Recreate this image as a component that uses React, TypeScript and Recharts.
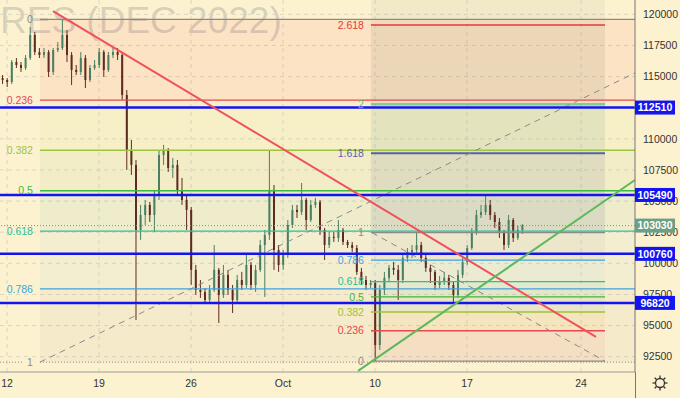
import React from 'react';
import { ComposedChart, Bar, XAxis, YAxis, CartesianGrid, ReferenceLine, ReferenceArea } from 'recharts';

const X_MIN = -0.38;
const X_MAX = 34.13;
const Y_MIN = 91270;
const Y_MAX = 121150;

// x is measured in trading days from Sep 12
const xTicks = [0, 5, 10, 15, 20, 25, 31.2];
const xTickLabels = ['12', '19', '26', 'Oct', '10', '17', '24'];
const yGrid = [92500, 95000, 97500, 100000, 102500, 105000, 107500, 110000, 112500, 115000, 117500, 120000];
// 112500 sits fully under the 112510 tag, so it has no label
const yTicks = [92500, 95000, 97500, 100000, 102500, 105000, 107500, 110000, 115000, 117500, 120000];

// candles [open, high, low, close], 4 per trading day
const weekSep12 = [
  [114880, 115130, 114400, 114720], [114720, 114880, 114160, 114560], [114560, 116330, 114400, 116170],
  [116170, 116490, 115690, 115930], [115930, 116170, 115370, 115690], [115690, 116730, 115530, 116490],
  [116490, 118980, 116330, 118340], [118340, 118580, 116730, 116970], [116970, 117290, 116490, 116730],
  [116730, 117290, 116490, 116970], [116970, 117130, 114970, 115370], [115370, 117290, 115130, 117130],
  [117130, 117780, 116970, 117290], [117290, 119600, 117130, 118340], [118340, 118740, 116170, 116730],
  [116730, 116970, 114320, 115530], [115530, 115930, 115130, 115370], [115370, 116970, 115130, 116490],
  [116490, 116730, 114080, 114720], [114720, 115930, 114560, 115690], [115690, 116330, 115530, 115930],
];
const weekSep19 = [
  [115930, 117290, 115690, 116970], [116970, 117130, 114970, 115530], [115530, 116970, 115370, 116730],
  [116730, 117290, 116490, 116970], [116970, 117290, 116330, 116730], [116730, 116970, 113120, 113520],
  [113520, 113920, 107500, 109100], [109100, 109910, 107100, 107900], [107900, 108300, 95450, 102680],
  [102680, 104690, 101880, 103880], [103880, 105090, 103080, 104690], [104690, 104930, 103320, 103880],
  [103880, 105890, 102520, 105490], [105490, 109100, 105090, 108700], [108700, 109510, 107900, 109100],
  [109100, 109260, 107340, 107660], [107660, 108460, 106860, 107900], [107900, 108300, 105490, 105890],
  [105890, 106860, 104690, 105090], [105090, 105490, 102680, 104290],
];
const weekSep26 = [
  [104290, 104530, 98260, 99470], [99470, 99870, 97460, 97860], [97860, 98660, 97220, 97700],
  [97700, 98020, 96820, 97060], [97060, 98260, 96900, 97860], [97860, 101470, 97700, 99470],
  [99470, 99630, 95210, 97460], [97460, 99870, 97220, 99070], [99070, 99470, 97460, 97860],
  [97860, 98260, 96010, 97060], [97060, 99070, 96900, 98660], [98660, 99310, 97860, 98260],
  [98260, 100670, 98020, 99870], [99870, 100110, 97860, 98260], [98260, 99870, 97700, 99470],
  [99470, 101880, 99310, 101470], [101470, 102680, 97300, 102280], [102280, 109100, 101880, 105890],
  [105890, 106290, 99470, 101070], [101070, 101470, 99310, 99870],
];
const weekOct3 = [
  [99870, 101070, 99470, 100670], [100670, 103480, 100430, 103080], [103080, 104690, 102840, 104290],
  [104290, 104690, 103640, 104120], [104120, 106450, 103880, 105090], [105090, 105250, 102680, 103480],
  [103480, 105090, 103320, 104690], [104690, 105250, 104450, 104930], [104930, 105090, 102280, 102680],
  [102680, 102840, 100270, 101470], [101470, 102520, 101230, 102120], [102120, 102520, 101720, 102040],
  [102040, 103480, 101720, 102680], [102680, 102840, 101470, 101720], [101720, 101880, 101230, 101470],
  [101470, 101720, 100910, 101230], [101230, 101470, 99070, 99310], [99310, 99630, 98260, 98660],
  [98660, 98990, 97860, 98260], [98260, 98660, 98020, 98420],
];
const weekOct10 = [
  [98420, 98660, 92150, 93440], [93440, 98260, 93040, 97860], [97860, 99310, 97460, 98830],
  [98830, 99870, 98500, 99630], [99630, 100110, 99070, 99470], [99470, 99870, 97060, 98660],
  [98660, 100670, 98420, 100430], [100430, 101230, 100110, 100910], [100910, 101470, 100430, 101070],
  [101070, 102520, 100670, 101470], [101470, 101720, 100110, 100430], [100430, 100670, 99310, 99630],
  [99630, 99870, 98420, 99310], [99310, 99470, 97860, 98260], [98260, 98990, 98020, 98500],
  [98500, 99310, 98260, 98830], [98830, 99070, 97860, 98260], [98260, 98500, 96900, 97460],
  [97460, 99470, 97220, 99070], [99070, 100430, 98830, 100110],
];
const weekOct17 = [
  [100110, 101470, 99870, 101230], [101230, 102840, 101070, 102520], [102520, 104290, 102280, 103880],
  [103880, 104690, 103640, 104120], [104120, 105490, 103880, 104690], [104690, 105090, 103480, 103880],
  [103880, 104120, 102840, 103320], [103320, 103640, 102040, 102520], [102520, 102680, 101070, 101470],
  [101470, 103880, 101230, 103480], [103480, 103640, 101720, 102040], [102040, 103000, 101880, 102680],
  [102680, 103160, 102360, 103030],
];

const candles = [weekSep12, weekSep19, weekSep26, weekOct3, weekOct10, weekOct17]
  .flat()
  .map(([o, h, l, c], i) => ({ x: -0.25 + i * 0.25, o, h, l, c, range: [l, h] }));

// fib retracement (left) and trend-based extension (right)
const fibLeftStart = 1.79;
const fibLeftHigh = 119600;
const fibLeftLow = 92060;
const fibLeftLevels = [0, 0.236, 0.382, 0.5, 0.618, 0.786, 1];
const fibLeftColors = ['#8a8a8a', '#e8474f', '#9bc53d', '#3cb83c', '#26c29a', '#3fa3df', '#8a8a8a'];
const fibLeftFills = ['#f23645', '#9bc53d', '#4caf50', '#089981', '#64b5f6', '#787b86'];

const fibExtStart = 19.78;
const fibExtEnd = 32.5;
const fibExtBase = 92150;
const fibExtUnit = 10310;
const fibExtLevels = [0, 0.236, 0.382, 0.5, 0.618, 0.786, 1, 1.618, 2, 2.618];
const fibExtColors = ['#8a8a8a', '#e8474f', '#9bc53d', '#3cb83c', '#26c29a', '#3fa3df', '#8a8a8a', '#5b5fa8', '#59c28a', '#e53935'];
const fibExtFills = ['#f23645', '#ff9800', '#4caf50', '#089981', '#64b5f6', '#787b86', '#5b5fa8', '#59c28a', '#a08060'];

const keyLevels = [112510, 105490, 100760, 96820];
const lastPrice = 103030;

const redTrend = [{ x: 2.5, y: 120260 }, { x: 32.01, y: 94090 }];
const greenTrend = [{ x: 19.08, y: 91360 }, { x: 34.13, y: 106690 }];
const fibLeftDiag = [{ x: 1.79, y: 92060 }, { x: 34.13, y: 115290 }];
const fibExtDiag = [{ x: 19.84, y: 102460 }, { x: 32.5, y: 92150 }];

const UP = '#4a7f63';
const DOWN = '#5e2a22';
const KEY_BLUE = '#1414f0';
const LAST_GREEN = '#6d9f85';

const leftPrice = (lvl: number) => fibLeftHigh - lvl * (fibLeftHigh - fibLeftLow);
const extPrice = (lvl: number) => fibExtBase + lvl * fibExtUnit;

const Candle = (props: any) => {
  const { x, y, width, height, payload } = props;
  if (x == null || y == null) return null;
  const { o, h, l, c } = payload;
  const top = Math.min(y, y + height);
  const hgt = Math.abs(height);
  const ratio = hgt / Math.max(h - l, 1);
  const bodyTop = top + (h - Math.max(o, c)) * ratio;
  const bodyH = Math.max(Math.abs(o - c) * ratio, 1);
  const color = c >= o ? UP : DOWN;
  const cx = x + width / 2;
  return (
    <g>
      <line x1={cx} x2={cx} y1={top} y2={top + hgt} stroke={color} strokeWidth={1} />
      <rect x={x - 0.5} y={bodyTop} width={width + 1} height={bodyH} fill={color} />
    </g>
  );
};

// price tags come last in the tick list so they sit on top of the plain ticks
const YTick = (props: any) => {
  const { x, y, payload } = props;
  const v = payload.value;
  const bg = v === lastPrice ? LAST_GREEN : keyLevels.includes(v) ? KEY_BLUE : null;
  if (bg) {
    return (
      <g>
        <rect x={x - 8} y={y - 7} width={40} height={14} fill={bg} />
        <text x={x + 12} y={y} dy="0.36em" textAnchor="middle" fill="#fff" fontSize={10.5} fontWeight="bold">
          {v}
        </text>
      </g>
    );
  }
  return (
    <text x={x} y={y} dy="0.36em" textAnchor="start" fill="#333" fontSize={10.5}>
      {v}
    </text>
  );
};

export default function App() {
  return (
    <div
      style={{
        position: 'absolute',
        left: 0,
        top: 0,
        width: 680,
        height: 398,
        background: '#fdf2cf',
        overflow: 'hidden',
        fontFamily: '"Liberation Sans", Arial, sans-serif',
      }}
    >
      <svg width={680} height={398} style={{ position: 'absolute', left: 0, top: 0 }}>
        <text x={0} y={33} fontSize={37} fill="rgba(120,123,134,0.28)" fontFamily='"Liberation Sans", Arial, sans-serif'>
          RES (DEC 2022)
        </text>
      </svg>
      <div style={{ position: 'absolute', left: 0, top: 0 }}>
        <ComposedChart width={680} height={398} data={candles} margin={{ top: 0, right: 0, bottom: 0, left: 0 }}>
          <CartesianGrid stroke="#dcd5c2" strokeDasharray="4 4" horizontalValues={yGrid} verticalValues={xTicks} />
          <XAxis
            type="number"
            dataKey="x"
            domain={[X_MIN, X_MAX]}
            allowDataOverflow
            ticks={xTicks}
            interval={0}
            tickFormatter={(v: number) => xTickLabels[xTicks.indexOf(v)] ?? ''}
            height={26}
            tickLine={false}
            axisLine={{ stroke: '#9a9a9a' }}
            tick={{ fill: '#333', fontSize: 10.5 }}
          />
          <YAxis
            orientation="right"
            type="number"
            domain={[Y_MIN, Y_MAX]}
            allowDataOverflow
            ticks={[...yTicks, lastPrice, ...keyLevels]}
            interval={0}
            width={45}
            tickLine={false}
            tickSize={0}
            tickMargin={8}
            axisLine={{ stroke: '#777' }}
            tick={<YTick />}
          />

          {fibLeftFills.map((f, i) => (
            <ReferenceArea
              key={'lf' + i}
              x1={fibLeftStart}
              x2={X_MAX}
              y1={leftPrice(fibLeftLevels[i + 1])}
              y2={leftPrice(fibLeftLevels[i])}
              fill={f}
              fillOpacity={i === 0 ? 0.08 : 0.06}
              stroke="none"
            />
          ))}
          <ReferenceArea x1={fibExtStart} x2={fibExtEnd} y1={extPrice(1)} y2={Y_MAX} fill="#787b86" fillOpacity={0.08} stroke="none" />
          {fibExtFills.map((f, i) => (
            <ReferenceArea
              key={'ef' + i}
              x1={fibExtStart}
              x2={fibExtEnd}
              y1={extPrice(fibExtLevels[i])}
              y2={extPrice(fibExtLevels[i + 1])}
              fill={f}
              fillOpacity={0.06}
              stroke="none"
            />
          ))}

          {fibLeftLevels.map((lvl, i) => (
            <ReferenceLine
              key={'ll' + i}
              segment={[{ x: fibLeftStart, y: leftPrice(lvl) }, { x: X_MAX, y: leftPrice(lvl) }]}
              stroke={fibLeftColors[i]}
              strokeWidth={lvl === 1 ? 1 : 1.3}
              strokeDasharray={lvl === 1 ? '1 2' : undefined}
              label={{ value: String(lvl), position: 'left', offset: 7, fill: fibLeftColors[i], fontSize: 10.5 }}
            />
          ))}
          <ReferenceLine
            segment={[{ x: X_MIN, y: fibLeftLow }, { x: 0.9, y: fibLeftLow }]}
            stroke="#8a8a8a"
            strokeDasharray="1 2"
          />
          {fibExtLevels.map((lvl, i) => (
            <ReferenceLine
              key={'el' + i}
              segment={[{ x: fibExtStart, y: extPrice(lvl) }, { x: fibExtEnd, y: extPrice(lvl) }]}
              stroke={fibExtColors[i]}
              strokeWidth={lvl === 2 ? 2.5 : lvl === 1.618 ? 2 : 1.3}
              strokeOpacity={lvl === 2 ? 0.7 : 1}
              label={{ value: String(lvl), position: 'left', offset: 7, fill: fibExtColors[i], fontSize: 10.5 }}
            />
          ))}

          <ReferenceLine segment={fibLeftDiag} stroke="#8a8a8a" strokeDasharray="6 5" />
          <ReferenceLine segment={fibExtDiag} stroke="#8a8a8a" strokeDasharray="6 5" />

          <Bar dataKey="range" barSize={1} shape={Candle} isAnimationActive={false} />

          <ReferenceLine y={lastPrice} stroke={LAST_GREEN} strokeDasharray="1 2" />
          {keyLevels.map((v) => (
            <ReferenceLine key={'kl' + v} y={v} stroke={KEY_BLUE} strokeWidth={2.5} />
          ))}

          <ReferenceLine segment={redTrend} stroke="#f0505c" strokeWidth={2} />
          <ReferenceLine segment={greenTrend} stroke="#5cb85c" strokeWidth={2} />
        </ComposedChart>
      </div>
      <svg width={680} height={398} style={{ position: 'absolute', left: 0, top: 0, pointerEvents: 'none' }}>
        <line x1={635.5} x2={635.5} y1={372} y2={398} stroke="#777" />
        <g transform="translate(660,383)" stroke="#333" fill="none" strokeWidth={1.3}>
          <circle r={4.5} />
          {[0, 45, 90, 135, 180, 225, 270, 315].map((a) => (
            <line key={a} x1={0} y1={-5} x2={0} y2={-7.5} transform={`rotate(${a})`} />
          ))}
        </g>
      </svg>
    </div>
  );
}
